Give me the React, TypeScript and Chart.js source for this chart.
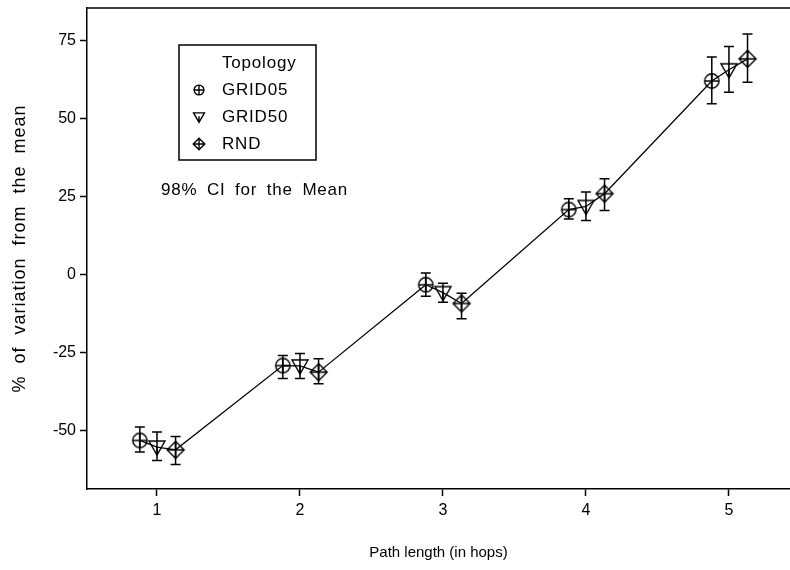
import React, { useEffect, useRef } from "react";
import { Chart, registerables } from "chart.js";

Chart.register(...registerables);

// Path length categories (hops) and axis ticks
const hops = [1, 2, 3, 4, 5];
const yTicks = [-50, -25, 0, 25, 50, 75];

const legendTitle = "Topology";
const seriesNames = ["GRID05", "GRID50", "RND"];
const ciNote = "98% CI for the Mean";
const xTitle = "Path length (in hops)";
const yTitle = "% of variation from the mean";

// Means and 98% confidence limits per topology
const grid05Mean = [-53.2, -29.2, -3.3, 20.8, 62.0];
const grid05Low = [-56.9, -33.3, -7.0, 17.8, 54.7];
const grid05High = [-48.9, -26.0, 0.5, 24.3, 69.7];

const grid50Mean = [-55.3, -29.3, -5.8, 21.8, 65.6];
const grid50Low = [-59.6, -33.3, -8.9, 17.3, 58.4];
const grid50High = [-50.5, -25.3, -2.8, 26.4, 73.1];

const rndMean = [-56.2, -31.3, -9.3, 25.9, 69.1];
const rndLow = [-60.9, -35.0, -14.2, 20.5, 61.6];
const rndHigh = [-51.9, -27.0, -6.0, 30.7, 77.1];

const means = [grid05Mean, grid50Mean, rndMean];
const lows = [grid05Low, grid50Low, rndLow];
const highs = [grid05High, grid50High, rndHigh];

// horizontal dodge so the three topologies sit side by side at each hop
const DODGE = [-0.12, 0, 0.13];
const STYLES = ["circle", "triangle", "diamond"] as const;
type MarkerStyle = (typeof STYLES)[number];

const FONT = "'Liberation Sans', Arial, sans-serif";

function drawMarker(ctx: CanvasRenderingContext2D, style: MarkerStyle, cx: number, cy: number, s: number) {
  ctx.save();
  ctx.strokeStyle = "#000";
  ctx.lineWidth = 1.4;
  ctx.beginPath();
  if (style === "circle") {
    const r = 7.2 * s;
    ctx.arc(cx, cy, r, 0, Math.PI * 2);
    ctx.moveTo(cx - r, cy);
    ctx.lineTo(cx + r, cy);
    ctx.moveTo(cx, cy - r);
    ctx.lineTo(cx, cy + r);
  } else if (style === "triangle") {
    const w = 8 * s;
    ctx.moveTo(cx - w, cy - 6 * s);
    ctx.lineTo(cx + w, cy - 6 * s);
    ctx.lineTo(cx, cy + 8 * s);
    ctx.closePath();
    ctx.moveTo(cx, cy - 1 * s);
    ctx.lineTo(cx, cy + 8 * s);
  } else {
    const r = 8.5 * s;
    ctx.moveTo(cx, cy - r);
    ctx.lineTo(cx + r, cy);
    ctx.lineTo(cx, cy + r);
    ctx.lineTo(cx - r, cy);
    ctx.closePath();
    ctx.moveTo(cx - r, cy);
    ctx.lineTo(cx + r, cy);
    ctx.moveTo(cx, cy - r);
    ctx.lineTo(cx, cy + r);
  }
  ctx.stroke();
  ctx.restore();
}

function markerImage(style: MarkerStyle): HTMLCanvasElement {
  const c = document.createElement("canvas");
  c.width = 22;
  c.height = 22;
  const ctx = c.getContext("2d")!;
  drawMarker(ctx, style, 11, 11, 1);
  return c;
}

const errorBars = {
  id: "errorBars",
  afterDatasetsDraw(chart: any) {
    const { ctx, scales } = chart;
    const xs = scales.x;
    const ys = scales.y;
    ctx.save();
    ctx.strokeStyle = "#000";
    ctx.lineWidth = 1.5;
    for (let i = 0; i < means.length; i++) {
      for (let j = 0; j < hops.length; j++) {
        const x = xs.getPixelForValue(hops[j] + DODGE[i]);
        const y1 = ys.getPixelForValue(lows[i][j]);
        const y2 = ys.getPixelForValue(highs[i][j]);
        ctx.beginPath();
        ctx.moveTo(x, y1);
        ctx.lineTo(x, y2);
        ctx.moveTo(x - 5, y1);
        ctx.lineTo(x + 5, y1);
        ctx.moveTo(x - 5, y2);
        ctx.lineTo(x + 5, y2);
        ctx.stroke();
      }
    }
    ctx.restore();
  },
};

const decorations = {
  id: "decorations",
  afterDraw(chart: any) {
    const { ctx, chartArea: a } = chart;
    ctx.save();
    ctx.strokeStyle = "#000";
    ctx.fillStyle = "#000";
    // top frame line
    ctx.lineWidth = 1.5;
    ctx.beginPath();
    ctx.moveTo(a.left, a.top);
    ctx.lineTo(a.right, a.top);
    ctx.stroke();

    // legend box
    const lx = a.left + 92;
    const ly = a.top + 37;
    ctx.lineWidth = 1.5;
    ctx.strokeRect(lx, ly, 137, 115);
    ctx.font = `17px ${FONT}`;
    ctx.textBaseline = "middle";
    ctx.textAlign = "left";
    (ctx as any).letterSpacing = "0.8px";
    ctx.fillText(legendTitle, lx + 43, ly + 18);
    for (let i = 0; i < seriesNames.length; i++) {
      const ry = ly + 45 + i * 27;
      drawMarker(ctx, STYLES[i], lx + 20, ry, 0.68);
      ctx.fillText(seriesNames[i], lx + 43, ry);
    }

    // CI note
    (ctx as any).wordSpacing = "4px";
    ctx.fillText(ciNote, a.left + 74, a.top + 182);
    (ctx as any).wordSpacing = "0px";

    // y-axis title
    ctx.font = `18px ${FONT}`;
    (ctx as any).letterSpacing = "1px";
    (ctx as any).wordSpacing = "6px";
    ctx.translate(20, (a.top + a.bottom) / 2);
    ctx.rotate(-Math.PI / 2);
    ctx.textAlign = "center";
    ctx.fillText(yTitle, 0, 0);
    ctx.restore();
  },
};

export default function App() {
  const ref = useRef<HTMLCanvasElement | null>(null);

  useEffect(() => {
    if (!ref.current) return;

    const lineData: { x: number; y: number }[] = [];
    hops.forEach((h, j) => {
      means.forEach((m, i) => lineData.push({ x: h + DODGE[i], y: m[j] }));
    });

    const pointSets = seriesNames.map((name, i) => ({
      type: "scatter" as const,
      label: name,
      data: hops.map((h, j) => ({ x: h + DODGE[i], y: means[i][j] })),
      pointStyle: markerImage(STYLES[i]),
      pointRadius: 8,
      showLine: false,
      order: 0,
    }));

    const chart = new Chart(ref.current, {
      type: "scatter",
      data: {
        datasets: [
          {
            type: "line",
            label: "path",
            data: lineData,
            borderColor: "#000",
            borderWidth: 1.3,
            pointRadius: 0,
            fill: false,
            tension: 0,
            order: 1,
          } as any,
          ...pointSets,
        ],
      },
      options: {
        animation: false,
        responsive: false,
        maintainAspectRatio: false,
        layout: { autoPadding: false, padding: { top: 8, left: 0, right: 0, bottom: 0 } },
        plugins: {
          legend: { display: false },
          tooltip: { enabled: false },
        },
        scales: {
          x: {
            type: "linear",
            min: 0.5105,
            max: 5.427,
            afterBuildTicks: (s: any) => {
              s.ticks = hops.map((v) => ({ value: v }));
            },
            afterFit: (s: any) => {
              s.height = 81;
              s.paddingLeft = 0;
              s.paddingRight = 0;
            },
            grid: {
              drawOnChartArea: false,
              drawTicks: true,
              tickLength: 7,
              tickWidth: 1.5,
              color: "#000",
            },
            border: { display: true, color: "#000", width: 1.5 },
            ticks: {
              color: "#000",
              font: { family: FONT, size: 16, lineHeight: 1 },
              padding: 7,
              maxRotation: 0,
            },
            title: {
              display: true,
              text: xTitle,
              color: "#000",
              font: { family: FONT, size: 15, lineHeight: 1.2 },
              padding: { top: 0, bottom: 8 },
            },
          },
          y: {
            type: "linear",
            min: -68.75,
            max: 85.4,
            afterBuildTicks: (s: any) => {
              s.ticks = yTicks.map((v) => ({ value: v }));
            },
            afterFit: (s: any) => {
              s.width = 87;
              s.paddingTop = 0;
              s.paddingBottom = 0;
            },
            grid: {
              drawOnChartArea: false,
              drawTicks: true,
              tickLength: 7,
              tickWidth: 1.5,
              color: "#000",
            },
            border: { display: true, color: "#000", width: 1.5 },
            ticks: {
              color: "#000",
              font: { family: FONT, size: 16, lineHeight: 1 },
              padding: 4,
            },
            title: { display: false },
          },
        },
      },
      plugins: [errorBars, decorations],
    });

    return () => chart.destroy();
  }, []);

  return (
    <div style={{ position: "fixed", left: 0, top: 0, width: 790, height: 570, background: "#fff" }}>
      <canvas ref={ref} width={790} height={570} />
    </div>
  );
}
